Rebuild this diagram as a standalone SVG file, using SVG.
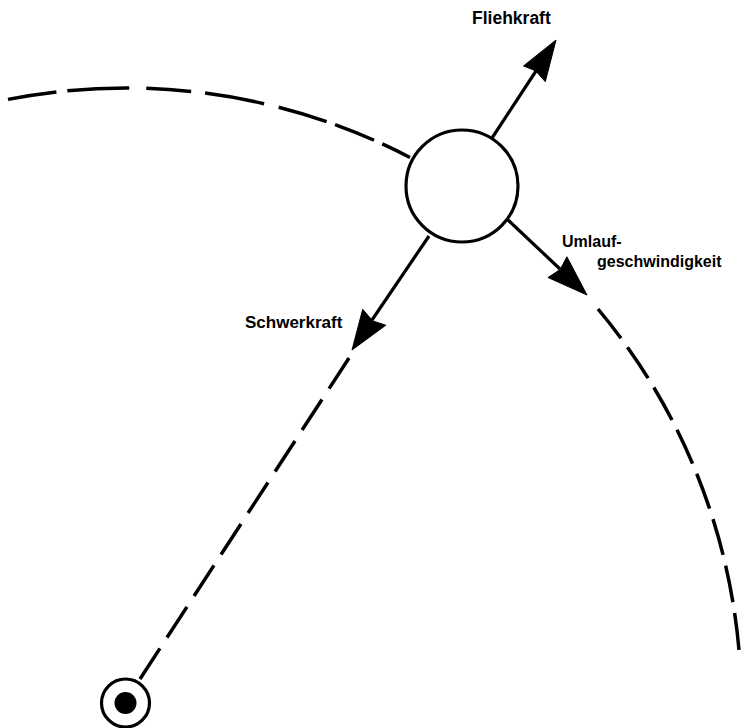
<svg xmlns="http://www.w3.org/2000/svg" width="741" height="728" viewBox="0 0 741 728">
<style>
.orbit{fill:none;stroke:#000;stroke-width:3.5;stroke-linecap:butt}
.shaft{fill:none;stroke:#000;stroke-width:3.2}
.head{fill:#000;stroke:#000;stroke-width:1;stroke-linejoin:round}
.lbl{font-family:"Liberation Sans",Arial,Helvetica,sans-serif;font-weight:bold;fill:#000}
</style>
<rect width="741" height="728" fill="#fff"/>
<g id="connectors">
<path class="orbit" d="M 8 99.4 A 615 615 0 0 1 410 157.5" stroke-dasharray="49 11 62 17 45 14 60 15 50 9 42 9 31 20"/>
<path class="orbit" d="M 598 309 A 615 615 0 0 1 739 650" stroke-dasharray="37.2 11"/>
<path class="orbit" d="M 349 358 L 140 679" stroke-dasharray="36.5 13"/>
<g id="arrow-fliehkraft">
<line class="shaft" x1="492" y1="138" x2="536" y2="71"/>
<polygon class="head" points="556,40 545.3,81.7 535.8,70.9 523.5,65.9"/>
</g>
<g id="arrow-schwerkraft">
<line class="shaft" x1="429" y1="236" x2="372" y2="320"/>
<polygon class="head" points="352,350 362.7,309.3 372.7,320.9 385.8,325.2"/>
</g>
<g id="arrow-umlauf">
<line class="shaft" x1="508" y1="220" x2="560" y2="269"/>
<polygon class="head" points="587,295 548,277.5 560.2,269.5 566.9,256.8"/>
</g>
</g>
<g id="planet">
<circle cx="462" cy="186" r="56" fill="#fff" stroke="#000" stroke-width="3.2"/>
</g>
<g id="center">
<circle cx="125.5" cy="703" r="24" fill="#fff" stroke="#000" stroke-width="3.2"/>
<circle cx="125.5" cy="703" r="11" fill="#000"/>
</g>
<g id="labels">
<text class="lbl" x="472" y="24" font-size="17.5">Fliehkraft</text>
<text class="lbl" x="245" y="328" font-size="17">Schwerkraft</text>
<text class="lbl" x="562" y="247" font-size="16">Umlauf-</text>
<text class="lbl" x="597" y="267" font-size="16">geschwindigkeit</text>
</g>
</svg>
